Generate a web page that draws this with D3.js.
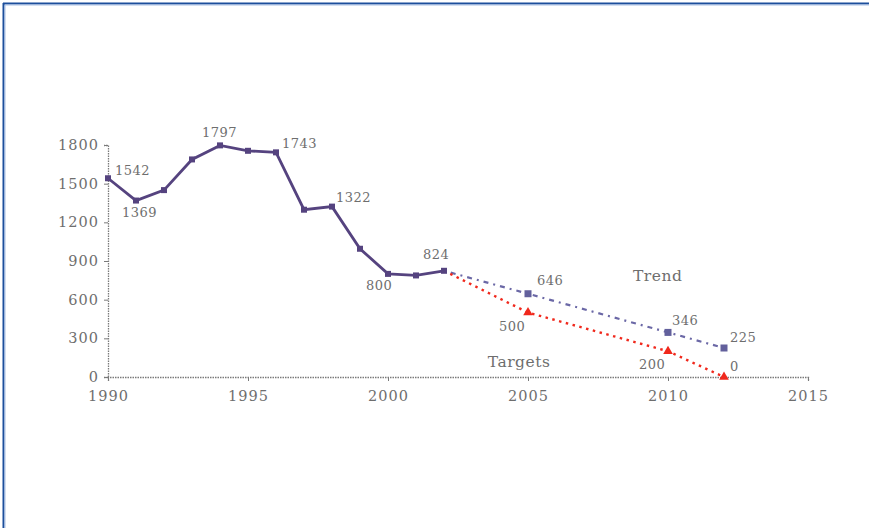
<!DOCTYPE html>
<html><head><meta charset="utf-8">
<script src="https://cdn.jsdelivr.net/npm/d3@7"></script>
<style>
html,body{margin:0;padding:0;background:#fff;}
svg{display:block;}
</style></head>
<body>
<svg id="c" width="869" height="528"></svg>
<script>
// ---- data ----
const years = [1990,1991,1992,1993,1994,1995,1996,1997,1998,1999,2000,2001,2002];
const actual = [1542,1369,1450,1688,1797,1755,1743,1298,1322,995,800,788,824];
const trendYears = [2002,2005,2010,2012];
const trendValues = [824,646,346,225];
const targetYears = [2002,2005,2010,2012];
const targetValues = [824,500,200,0];
const yTicks = [0,300,600,900,1200,1500,1800];
const xTicks = [1990,1995,2000,2005,2010,2015];
// labelled points: [year, value]
const actualLabels = [[1990,1542],[1991,1369],[1994,1797],[1996,1743],[1998,1322],[2000,800],[2002,824]];
const trendLabels = [[2005,646],[2010,346],[2012,225]];
const targetLabels = [[2005,500],[2010,200],[2012,0]];
const seriesNames = ["Trend","Targets"];

// ---- layout / style ----
const svg = d3.select("#c");
const x = d3.scaleLinear().domain([1990,2015]).range([108,808]);
const y = d3.scaleLinear().domain([0,1800]).range([377,145]);
const font = "'DejaVu Serif', serif";
const txt = "#6e6e6e";

// border
svg.append("line").attr("x1",3).attr("x2",869).attr("y1",3.5).attr("y2",3.5).attr("stroke","#1d4f9c").attr("stroke-width",2);
svg.append("line").attr("x1",3).attr("x2",869).attr("y1",5).attr("y2",5).attr("stroke","#a9c0e4").attr("stroke-width",1);
svg.append("line").attr("x1",3.5).attr("x2",3.5).attr("y1",3).attr("y2",528).attr("stroke","#1d4f9c").attr("stroke-width",2);
svg.append("line").attr("x1",5).attr("x2",5).attr("y1",5).attr("y2",528).attr("stroke","#a9c0e4").attr("stroke-width",1);

// axes
const gy = svg.append("g").attr("transform","translate(108,0)")
  .call(d3.axisLeft(y).tickValues(yTicks).tickFormat(d3.format("d")).tickSize(4).tickPadding(5));
const gx = svg.append("g").attr("transform","translate(0,377)")
  .call(d3.axisBottom(x).tickValues(xTicks).tickFormat(d3.format("d")).tickSize(4).tickPadding(10));
[gx,gy].forEach(g=>{
  g.select(".domain").attr("stroke","#7a7a7a").attr("stroke-dasharray","1.5,1").attr("stroke-width",1.3);
  g.selectAll(".tick line").attr("stroke","#7a7a7a");
  g.selectAll("text").attr("fill",txt).style("font-family",font).style("font-size","14.5px").style("letter-spacing","1px");
});

// lines
const line = d3.line().x(d=>x(d[0])).y(d=>y(d[1]));
const actualPts = years.map((yr,i)=>[yr,actual[i]]);
const trendPts = trendYears.map((yr,i)=>[yr,trendValues[i]]);
const targetPts = targetYears.map((yr,i)=>[yr,targetValues[i]]);

svg.append("path").datum(trendPts).attr("d",line).attr("fill","none")
  .attr("stroke","#6b68a6").attr("stroke-width",2.2).attr("stroke-dasharray","2,5,5,5");
svg.append("path").datum(targetPts).attr("d",line).attr("fill","none")
  .attr("stroke","#f0281c").attr("stroke-width",2.4).attr("stroke-dasharray","2.5,4.5");
svg.append("path").datum(actualPts).attr("d",line).attr("fill","none")
  .attr("stroke","#55437f").attr("stroke-width",2.8);

// markers
svg.selectAll(".ma").data(actualPts).enter().append("rect")
  .attr("x",d=>x(d[0])-3).attr("y",d=>y(d[1])-3).attr("width",6).attr("height",6).attr("fill","#55437f");
svg.selectAll(".mt").data(trendPts.slice(1)).enter().append("rect")
  .attr("x",d=>x(d[0])-3.5).attr("y",d=>y(d[1])-3.5).attr("width",7).attr("height",7).attr("fill","#62609c");
svg.selectAll(".mg").data(targetPts.slice(1)).enter().append("path")
  .attr("transform",d=>`translate(${x(d[0])},${y(d[1])})`)
  .attr("d",d3.symbol().type(d3.symbolTriangle).size(40)).attr("fill","#f0281c");

// data labels (offsets are styling)
const aOff = [[7,-8],[-14,12],[-18,-13],[6,-9],[4,-9],[-22,12],[-21,-16]];
const tOff = [[9,-13],[4,-12],[6,-11]];
const gOff = [[-29,14],[-29,13],[6,-11]];
function labels(data, off){
  svg.append("g").selectAll("text").data(data).enter().append("text")
    .attr("x",(d,i)=>x(d[0])+off[i][0]).attr("y",(d,i)=>y(d[1])+off[i][1])
    .attr("dy","0.35em").attr("fill",txt).style("font-family",font).style("font-size","13px").style("letter-spacing","0.5px")
    .text(d=>d[1]);
}
labels(actualLabels, aOff);
labels(trendLabels, tOff);
labels(targetLabels, gOff);

// series names
svg.append("text").attr("x",x(2008.75)).attr("y",y(790)).attr("dy","0.35em")
  .attr("fill",txt).style("font-family",font).style("font-size","15.5px").style("letter-spacing","0.5px").text(seriesNames[0]);
svg.append("text").attr("x",x(2003.6)-1).attr("y",y(118)).attr("dy","0.35em")
  .attr("fill",txt).style("font-family",font).style("font-size","15.5px").style("letter-spacing","0.5px").text(seriesNames[1]);
</script>
</body></html>
